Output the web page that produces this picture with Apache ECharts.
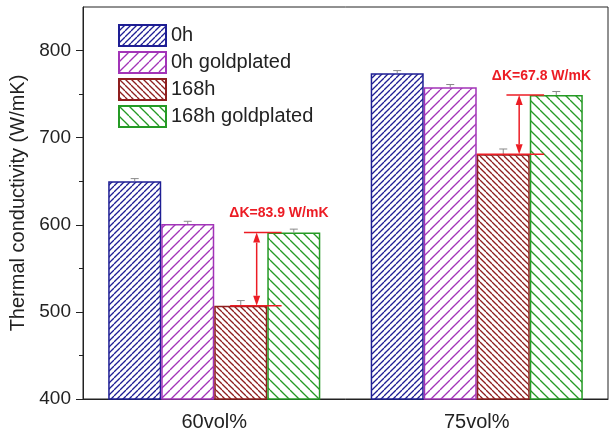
<!DOCTYPE html>
<html><head><meta charset="utf-8">
<script src="https://cdn.jsdelivr.net/npm/echarts@6/dist/echarts.min.js"></script>
<style>html,body{margin:0;padding:0;background:#fff}#c{width:615px;height:441px}</style>
</head><body><div id="c"></div>
<script>
// ---- data ----
const categories = ['60vol%', '75vol%'];
const seriesNames = ['0h', '0h goldplated', '168h', '168h goldplated'];
const vals0h = [650, 774];
const vals0hGold = [601, 758];
const vals168h = [507, 681];
const vals168hGold = [591, 749];
const err0h = [3, 3];
const err0hGold = [3, 3];
const err168h = [6, 6];
const err168hGold = [4, 4];
const yTickValues = [400, 500, 600, 700, 800];
const yMinorTickValues = [450, 550, 650, 750];
const deltaCats = [0, 1];
const deltaLow = [507, 681];
const deltaHigh = [591, 749];
const deltaLabels = ['\u0394K=83.9 W/mK', '\u0394K=67.8 W/mK'];

// ---- styles ----
const FONT = 'Liberation Sans, Arial, Helvetica, sans-serif';
const colors = ['#1e1e94', '#a234b8', '#8e1e1e', '#259a25'];
const spacing = [6, 10, 6, 10];
const dirs = ['/', '/', '\\', '\\'];
const RED = '#ec1c24';
const BAR_FRAC = 0.202;

function makePattern(color, s, dir) {
  const cv = document.createElement('canvas');
  cv.width = s; cv.height = s;
  const ctx = cv.getContext('2d');
  ctx.fillStyle = '#fff'; ctx.fillRect(0, 0, s, s);
  ctx.strokeStyle = color; ctx.lineWidth = 1.3;
  for (let k = -1; k <= 1; k++) {
    ctx.beginPath();
    if (dir === '/') { ctx.moveTo(k * s, s); ctx.lineTo(k * s + s, 0); }
    else { ctx.moveTo(k * s, 0); ctx.lineTo(k * s + s, s); }
    ctx.stroke();
  }
  return { image: cv, repeat: 'repeat' };
}

const allVals = [vals0h, vals0hGold, vals168h, vals168hGold];
const allErrs = [err0h, err0hGold, err168h, err168hGold];

const barSeries = seriesNames.map((n, i) => ({
  name: n, type: 'bar', data: allVals[i],
  barWidth: (BAR_FRAC * 100) + '%', barGap: '0%',
  itemStyle: { color: makePattern(colors[i], spacing[i], dirs[i]), borderColor: colors[i], borderWidth: 1.5 },
  emphasis: { disabled: true }
}));

const errData = [];
allVals.forEach((arr, s) => arr.forEach((v, c) => errData.push([c, v, allErrs[s][c], s])));

const errSeries = {
  type: 'custom', data: errData, z: 5, silent: true,
  renderItem(params, api) {
    const c = api.value(0), v = api.value(1), e = api.value(2), s = api.value(3);
    const band = api.size([1, 0])[0];
    const w = band * BAR_FRAC;
    const dx = (s - 1.5) * w;
    const p0 = api.coord([c, v]);
    const p1 = api.coord([c, v + e]);
    const x = p0[0] + dx;
    const st = { stroke: '#8a8a8a', lineWidth: 1 };
    return { type: 'group', children: [
      { type: 'line', shape: { x1: x, y1: p0[1], x2: x, y2: p1[1] }, style: st },
      { type: 'line', shape: { x1: x - 4, y1: p1[1], x2: x + 4, y2: p1[1] }, style: st }
    ]};
  }
};

const annData = deltaCats.map((c, i) => [c, deltaLow[i], deltaHigh[i], i]);
const annSeries = {
  type: 'custom', data: annData, z: 6, silent: true,
  renderItem(params, api) {
    const c = api.value(0), lo = api.value(1), hi = api.value(2), idx = api.value(3);
    const band = api.size([1, 0])[0];
    const w = band * BAR_FRAC;
    const pLo = api.coord([c, lo]), pHi = api.coord([c, hi]);
    const cx = pLo[0];
    const ax = cx + w * 0.8;
    const st = { stroke: RED, lineWidth: 1.5 };
    const ah = 10, aw = 3.5;
    return { type: 'group', children: [
      { type: 'line', shape: { x1: cx + w * 0.56, y1: pHi[1], x2: cx + w * 1.27, y2: pHi[1] }, style: st },
      { type: 'line', shape: { x1: cx + (idx === 0 ? w * 0.3 : 0), y1: pLo[1], x2: cx + w * 1.27, y2: pLo[1] }, style: st },
      { type: 'line', shape: { x1: ax, y1: pHi[1] + ah, x2: ax, y2: pLo[1] - ah }, style: st },
      { type: 'polygon', shape: { points: [[ax, pHi[1]], [ax - aw, pHi[1] + ah], [ax + aw, pHi[1] + ah]] }, style: { fill: RED } },
      { type: 'polygon', shape: { points: [[ax, pLo[1]], [ax - aw, pLo[1] - ah], [ax + aw, pLo[1] - ah]] }, style: { fill: RED } },
      { type: 'text', x: cx + w * 1.22, y: pHi[1] - 19, style: { text: deltaLabels[idx], fill: RED, font: 'bold 14px ' + FONT, align: 'center', verticalAlign: 'middle' } }
    ]};
  }
};

const chart = echarts.init(document.getElementById('c'), null, { renderer: 'canvas' });
chart.setOption({
  animation: false,
  textStyle: { fontFamily: FONT },
  grid: { left: 83, right: 7, top: 7, bottom: 42, show: true, borderColor: '#222', borderWidth: 1, backgroundColor: 'transparent' },
  legend: {
    data: seriesNames, orient: 'vertical', left: 118, top: 24, padding: 0,
    itemWidth: 47, itemHeight: 21, itemGap: 4, icon: 'rect',
    textStyle: { fontSize: 20, color: '#222', fontFamily: FONT, padding: [0, 0, 0, 0] },
    selectedMode: false
  },
  xAxis: {
    type: 'category', data: categories,
    axisLine: { lineStyle: { color: '#222', width: 1 } },
    axisTick: { show: false },
    axisLabel: { fontSize: 20, color: '#222', margin: 13, fontFamily: FONT },
    splitLine: { show: false }
  },
  yAxis: [{
    type: 'value', min: 400, max: 850, interval: 50,
    name: 'Thermal conductivity (W/mK)', nameLocation: 'middle', nameGap: 53,
    nameTextStyle: { fontSize: 20, color: '#222', fontFamily: FONT },
    axisLine: { show: true, lineStyle: { color: '#222', width: 1 } },
    axisTick: { show: true, length: 7, customValues: yTickValues, lineStyle: { color: '#222' } },
    axisLabel: { fontSize: 19, color: '#222', margin: 12, customValues: yTickValues, fontFamily: FONT },
    splitLine: { show: false }
  }, {
    type: 'value', min: 400, max: 850, position: 'left',
    axisLine: { show: false },
    axisTick: { show: true, length: 4, customValues: yMinorTickValues, lineStyle: { color: '#222' } },
    axisLabel: { show: false },
    splitLine: { show: false }
  }],
  series: barSeries.concat([errSeries, annSeries])
});
</script>
</body></html>
